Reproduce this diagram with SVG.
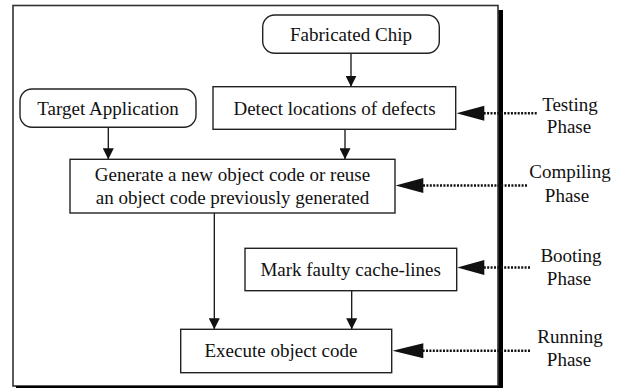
<svg xmlns="http://www.w3.org/2000/svg" width="633" height="389" viewBox="0 0 633 389">
<style>
.box{fill:#fff;stroke:#222;stroke-width:1.4}
text{font-family:'Liberation Serif','Times New Roman','DejaVu Serif',serif;font-size:19px;fill:#111;text-anchor:middle}
.ln{stroke:#111;stroke-width:1.3;fill:none}
.dot{stroke:#111;stroke-width:2.4;stroke-dasharray:2 1.4;fill:none}
</style>
<defs>
<marker id="ah" viewBox="0 0 11 11" refX="11" refY="5.5" markerWidth="11" markerHeight="11" markerUnits="userSpaceOnUse" orient="auto">
<path d="M0,0 L11,5.5 L0,11 Z" fill="#111"/>
</marker>
</defs>
<g id="frame">
<rect x="13" y="5.5" width="485" height="380.5" fill="#fff" stroke="#333" stroke-width="1.6"/>
<rect x="498.5" y="10" width="4.5" height="378" fill="#000"/>
<rect x="16" y="386" width="487" height="2" fill="#000"/>
</g>
<g id="connectors">
<line class="ln" x1="351" y1="53.3" x2="351" y2="86.7" marker-end="url(#ah)"/>
<line class="ln" x1="108.3" y1="127.3" x2="108.3" y2="159.3" marker-end="url(#ah)"/>
<line class="ln" x1="345" y1="129.3" x2="345" y2="159.3" marker-end="url(#ah)"/>
<line class="ln" x1="214.3" y1="213" x2="214.3" y2="329.3" marker-end="url(#ah)"/>
<line class="ln" x1="351.7" y1="290.7" x2="351.7" y2="329.3" marker-end="url(#ah)"/>
<line class="dot" x1="536.7" y1="113.3" x2="484" y2="113.3"/>
<path d="M484.3,105.8 L456.5,113.3 L484.3,120.8 Z" fill="#111"/>
<line class="dot" x1="527" y1="185.5" x2="423" y2="185.5"/>
<path d="M423.3,178 L395.5,185.5 L423.3,193 Z" fill="#111"/>
<line class="dot" x1="530" y1="267.5" x2="484" y2="267.5"/>
<path d="M484.3,260 L457.2,267.5 L484.3,275 Z" fill="#111"/>
<line class="dot" x1="530" y1="350.7" x2="423" y2="350.7"/>
<path d="M423.3,343.2 L392.5,350.7 L423.3,358.2 Z" fill="#111"/>
</g>
<g id="fabricated-chip">
<rect class="box" x="262.7" y="15" width="176.6" height="38.3" rx="12"/>
<text x="351" y="40.5">Fabricated Chip</text>
</g>
<g id="target-application">
<rect class="box" x="20" y="89" width="176" height="38.3" rx="12"/>
<text x="108" y="114.5">Target Application</text>
</g>
<g id="detect-defects">
<rect class="box" x="213" y="86.7" width="242.7" height="42.6"/>
<text x="334.5" y="114.5">Detect locations of defects</text>
</g>
<g id="generate-code">
<rect class="box" x="70" y="159.3" width="325" height="53.7"/>
<text x="232.5" y="180.5">Generate a new object code or reuse</text>
<text x="232.5" y="204">an object code previously generated</text>
</g>
<g id="mark-faulty">
<rect class="box" x="245" y="248.3" width="211.7" height="42.4"/>
<text x="350.6" y="276">Mark faulty cache-lines</text>
</g>
<g id="execute-code">
<rect class="box" x="180.7" y="329.3" width="211" height="43.4"/>
<text x="281" y="357">Execute object code</text>
</g>
<g id="phase-labels">
<text x="570" y="110.7">Testing</text>
<text x="569" y="133.3">Phase</text>
<text x="570" y="178">Compiling</text>
<text x="567" y="201.7">Phase</text>
<text x="571" y="262">Booting</text>
<text x="569" y="285">Phase</text>
<text x="570" y="343">Running</text>
<text x="569" y="366">Phase</text>
</g>
</svg>
